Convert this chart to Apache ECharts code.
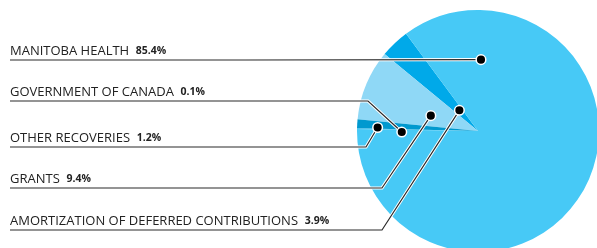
<!DOCTYPE html>
<html>
<head>
<meta charset="utf-8">
<script src="https://cdn.jsdelivr.net/npm/echarts@6/dist/echarts.min.js"></script>
<style>
  html, body { margin: 0; padding: 0; background: #fff; }
  #main { width: 597px; height: 248px; }
</style>
</head>
<body>
<div id="main"></div>
<script>
// data, in the order the slices run (counter-clockwise from the start angle)
var names = ["AMORTIZATION OF DEFERRED CONTRIBUTIONS", "GRANTS", "OTHER RECOVERIES", "GOVERNMENT OF CANADA", "MANITOBA HEALTH"];
var values = [3.9, 9.4, 1.2, 0.1, 85.4];
var colors = ["#00a9e9", "#8fd8f6", "#0099cf", "#2db5e6", "#47c9f6"];

// where each label sits (underline y) and where its leader bends / its dot lands
var lineY = [230, 188, 147, 101, 60];
var elbowX = [382, 382, 366, 368, 380];
var dotAt = [[132, 0.23], [162, 0.41], [178, 0.83], [180.8, 0.63], [87.6, 0.59]]; // [angle deg, radius fraction]

var cx = 478, cy = 131, R = 121;
var startAngle = 126.5;

function dotPos(i) {
  var a = dotAt[i][0] * Math.PI / 180;
  var r = dotAt[i][1] * R;
  return [cx + r * Math.cos(a), cy - r * Math.sin(a)];
}

function linePoints(i) {
  var d = dotPos(i);
  var y = lineY[i];
  var ex = elbowX[i];
  if (Math.abs(d[1] - y) < 1) ex = (d[0] + 10) / 2;
  return [d, [ex, y], [10, y]];
}

var myChart = echarts.init(document.getElementById("main"), null, { renderer: "canvas" });

// leader lines + dots, drawn on top of the pie
var marks = [];
for (var i = 0; i < names.length; i++) {
  var pts = linePoints(i);
  marks.push({
    type: "polyline",
    shape: { points: pts },
    style: { stroke: "#fff", lineWidth: 3.2, fill: null },
    z: 98
  });
  marks.push({
    type: "polyline",
    shape: { points: pts },
    style: { stroke: "#2a2a2a", lineWidth: 1.2, fill: null },
    z: 99
  });
  var p = dotPos(i);
  marks.push({
    type: "circle",
    shape: { cx: p[0], cy: p[1], r: 4.8 },
    style: { fill: "#000", stroke: "#fff", lineWidth: 1.5 },
    z: 100
  });
}

var option = {
  animation: false,
  backgroundColor: "#fff",
  series: [
    {
      type: "pie",
      center: [cx, cy],
      radius: R,
      startAngle: startAngle,
      clockwise: false,
      avoidLabelOverlap: false,
      silent: true,
      data: names.map(function (n, i) {
        return { name: n, value: values[i], itemStyle: { color: colors[i] } };
      }),
      itemStyle: { borderWidth: 0 },
      label: {
        show: true,
        position: "outside",
        formatter: function (p) {
          return "{n|" + p.name + "}  {v|" + values[p.dataIndex].toFixed(1) + "%}";
        },
        rich: {
          n: { fontFamily: "Open Sans", fontSize: 13, color: "#222", lineHeight: 15 },
          v: { fontFamily: "Open Sans", fontSize: 10.5, fontWeight: "bold", color: "#222", lineHeight: 15 }
        }
      },
      labelLine: { show: false },
      labelLayout: function (params) {
        var i = params.dataIndex;
        return {
          x: 10,
          y: lineY[i] - 1,
          align: "left",
          verticalAlign: "bottom",
          hideOverlap: false,
          moveOverlap: null
        };
      }
    }
  ],
  graphic: marks
};
myChart.setOption(option);
</script>
</body>
</html>
